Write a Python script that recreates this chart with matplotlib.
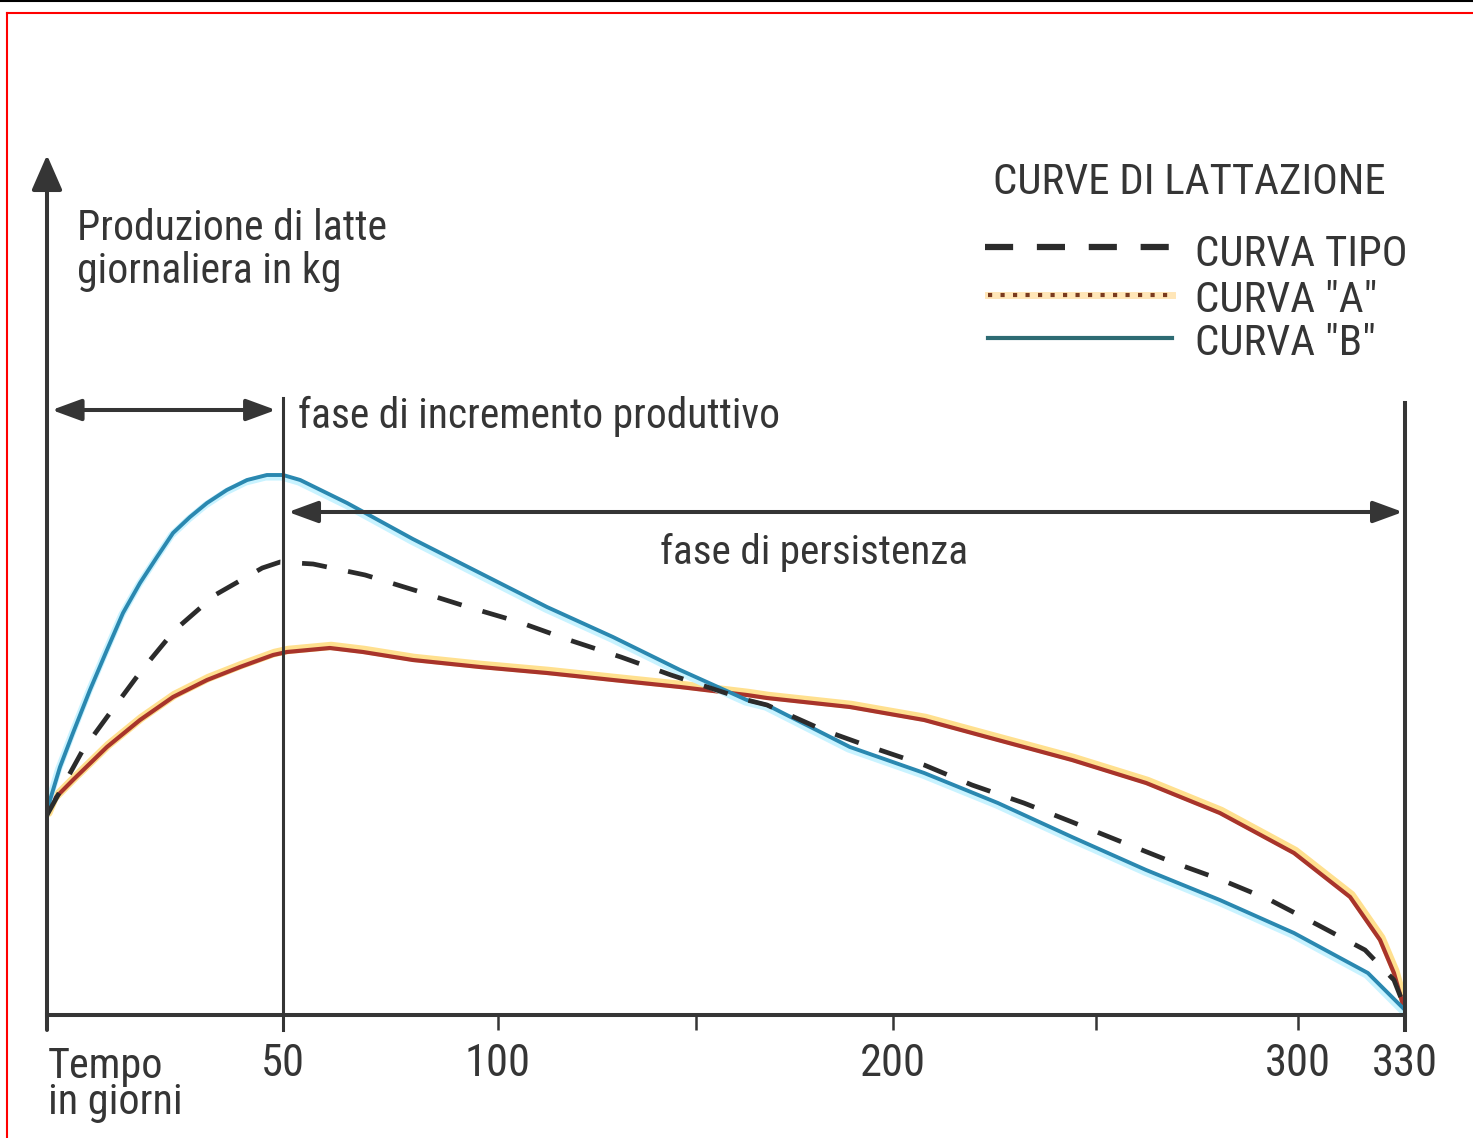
import numpy as np
import matplotlib
matplotlib.use('Agg')
import matplotlib.pyplot as plt
import matplotlib.patheffects as pe
from matplotlib import font_manager
from matplotlib.lines import Line2D

# a narrow face is closest to the original lettering; fall back to Arial metrics
installed = {f.name for f in font_manager.fontManager.ttflist}
face = next((n for n in ['Liberation Sans Narrow', 'Roboto Condensed', 'Open Sans Condensed',
                         'Liberation Sans', 'Roboto'] if n in installed), 'DejaVu Sans')
plt.rcParams['font.family'] = [face, 'DejaVu Sans']

# giorni di lattazione / produzione giornaliera (kg)
days_tipo = [0, 7.6, 13.8, 20.1, 27.1, 35.6, 45.6, 49.4, 57.0, 69.1, 81.2, 93.0,
             105.3, 118.0, 131.1, 143.8, 163.0, 168.1, 182.3, 192.9, 207.7, 219.5, 232.3,
             244.2, 256.5, 268.9, 281.2, 293.1, 305.6, 318.8, 326.9, 330]
kg_tipo = [10.0, 13.25, 15.25, 17.25, 19.25, 21.0, 22.35, 22.65, 22.55, 22.0, 21.2, 20.4,
           19.65, 18.75, 17.9, 17.0, 15.75, 15.5, 14.25, 13.5, 12.5, 11.5, 10.6,
           9.65, 8.65, 7.65, 6.75, 5.75, 4.5, 3.25, 1.75, 0.35]

days_a = [0, 1.3, 5.5, 12.7, 19.7, 26.7, 33.9, 40.9, 47.9, 50.9, 60.9, 68.6, 80.2, 95.8,
          112.4, 129.1, 146.1, 163.0, 168.1, 189.1, 207.7, 225.9, 244.2, 262.5, 280.7,
          299.0, 314.6, 323.0, 326.9, 330]
kg_a = [10.0, 10.75, 11.75, 13.4, 14.75, 15.9, 16.75, 17.4, 18.0, 18.15, 18.35, 18.15, 17.75,
        17.4, 17.1, 16.75, 16.4, 16.0, 15.85, 15.4, 14.75, 13.75, 12.75, 11.6, 10.1,
        8.1, 5.9, 3.75, 2.1, 0.15]

days_b = [0, 0.64, 2.75, 5.5, 9.1, 12.7, 16.1, 19.7, 23.3, 26.7, 30.3, 33.9, 38.1, 42.4,
          46.6, 50.0, 54.0, 64.9, 80.2, 95.8, 112.4, 129.1, 146.1, 163.0, 168.1, 189.1,
          207.7, 225.9, 244.2, 262.5, 280.7, 299.0, 319.6, 330]
kg_b = [10.0, 10.75, 12.4, 14.1, 16.25, 18.25, 20.1, 21.6, 22.9, 24.1, 24.9, 25.6, 26.25, 26.75,
        27.0, 27.0, 26.75, 25.6, 23.8, 22.1, 20.4, 18.9, 17.25, 15.75, 15.5, 13.4,
        12.1, 10.6, 8.9, 7.25, 5.75, 4.1, 2.1, 0.25]

tick_days = [0, 50, 100, 150, 200, 250, 300, 330]
tick_labels = ['', '50', '100', '', '200', '', '300', '330']

series_labels = ['CURVA TIPO', 'CURVA "A"', 'CURVA "B"']

# l'asse dei tempi disegnato non e' uniforme: lunghezza sulla carta dei giorni indicati
axis_days = [0, 50, 100, 200, 300, 330]
axis_paper = [0, 236, 451, 846, 1251, 1358]

INK = '#353535'
RED = '#a8342b'
BLUE = '#2a88b0'

W, H = 1473, 1138


def fx(px):
    return px / W


def fy(py):
    return 1 - py / H


fig = plt.figure(figsize=(W / 100, H / 100), dpi=100)
renderer = fig.canvas.get_renderer()


def fit_text(x, top, s, width, gap=None, **kw):
    # size the text so that its widest line spans `width` pixels, first line top at `top`
    t = fig.text(fx(x), fy(top), s, fontsize=30, va='top', color=INK, **kw)
    t.set_fontsize(30 * width / t.get_window_extent(renderer).width)
    if gap is not None:
        em = t.get_fontsize() * 100 / 72
        t.set_linespacing(gap / (0.98 * em))
    return t


ax = fig.add_axes([fx(47), fy(1015), (1405 - 47) / W, (1015 - 155) / H])
ax.set_xscale('function', functions=(lambda d: np.interp(d, axis_days, axis_paper),
                                     lambda p: np.interp(p, axis_paper, axis_days)))
ax.set_xlim(0, 330)
ax.set_ylim(0, 43)
ax.patch.set_visible(False)
for side in ['top', 'right', 'left']:
    ax.spines[side].set_visible(False)
ax.spines['bottom'].set_linewidth(2.9)
ax.spines['bottom'].set_color(INK)
ax.set_xticks(tick_days, tick_labels)
ax.set_yticks([])
probe = fig.text(0, 0, '100', fontsize=30)
tick_size = 30 * 66 / probe.get_window_extent(renderer).width
probe.remove()
ax.tick_params(axis='x', direction='out', length=11, width=1.8, color=INK,
               pad=9, labelsize=tick_size, labelcolor=INK)

# curves
ax.plot(days_a, kg_a, color=RED, lw=3.0, solid_capstyle='round',
        path_effects=[pe.Stroke(offset=(1, 1.5), linewidth=6, foreground='#ffe08f'), pe.Normal()])
ax.plot(days_b, kg_b, color=BLUE, lw=2.8, solid_capstyle='round',
        path_effects=[pe.Stroke(offset=(-1, -1.5), linewidth=5, foreground='#c9f3ff'), pe.Normal()])
ax.plot(days_tipo, kg_tipo, color='#2b2b2b', lw=3.4, dashes=(5.3, 4.6))

# axes with arrows
ax.annotate('', xy=(0, 43), xytext=(0, -0.75), annotation_clip=False,
            arrowprops=dict(arrowstyle='-|>,head_length=0.8,head_width=0.35', mutation_scale=27,
                            lw=2.9, color=INK, shrinkA=0, shrinkB=0))
ax.plot([50, 50], [-0.75, 30.85], color=INK, lw=2.2, clip_on=False)
ax.plot([330, 330], [-0.75, 30.6], color=INK, lw=2.9, clip_on=False)

# phases
phase_arrow = dict(arrowstyle='<|-|>,head_length=0.9,head_width=0.33', mutation_scale=20,
                   lw=2.9, color=INK, shrinkA=0, shrinkB=0)
ax.annotate('', xy=(1.0, 30.25), xytext=(48.5, 30.25), arrowprops=phase_arrow, annotation_clip=False)
ax.annotate('', xy=(51.2, 25.15), xytext=(329.4, 25.15), arrowprops=phase_arrow, annotation_clip=False)

fit_text(298, 396, 'fase di incremento produttivo', 482)
fit_text(660, 533, 'fase di persistenza', 308)
fit_text(77, 208, 'Produzione di latte\ngiornaliera in kg', 310, gap=43)
fit_text(48, 1046, 'Tempo\nin giorni', 134, gap=35)

# legend
fit_text(993, 162, 'CURVE DI LATTAZIONE', 392)
fig.add_artist(Line2D([fx(985), fx(1172)], [fy(247)] * 2, color='#2b2b2b', lw=4.5,
                      dashes=(4.5, 3.8)))
fig.add_artist(Line2D([fx(988), fx(1172)], [fy(295)] * 2, color='#ffe6b8', lw=5))
fig.add_artist(Line2D([fx(988), fx(1172)], [fy(295)] * 2, color='#7a3a1f', lw=3,
                      linestyle=(0, (1, 2))))
fig.add_artist(Line2D([fx(988), fx(1172)], [fy(338)] * 2, color='#2d6b73', lw=3))
size = fit_text(1195, 234, series_labels[0], 212).get_fontsize()
for label, top in zip(series_labels[1:], [280, 323]):
    fig.text(fx(1195), fy(top), label, va='top', color=INK, fontsize=size)

# page frame
fig.add_artist(Line2D([0, 1], [fy(0.8)] * 2, color='black', lw=1.5))
fig.add_artist(Line2D([fx(7), 1], [fy(13)] * 2, color='red', lw=1.5))
fig.add_artist(Line2D([fx(7), fx(7)], [fy(13), 0], color='red', lw=1.5))

fig.savefig('out.png', dpi=100)
